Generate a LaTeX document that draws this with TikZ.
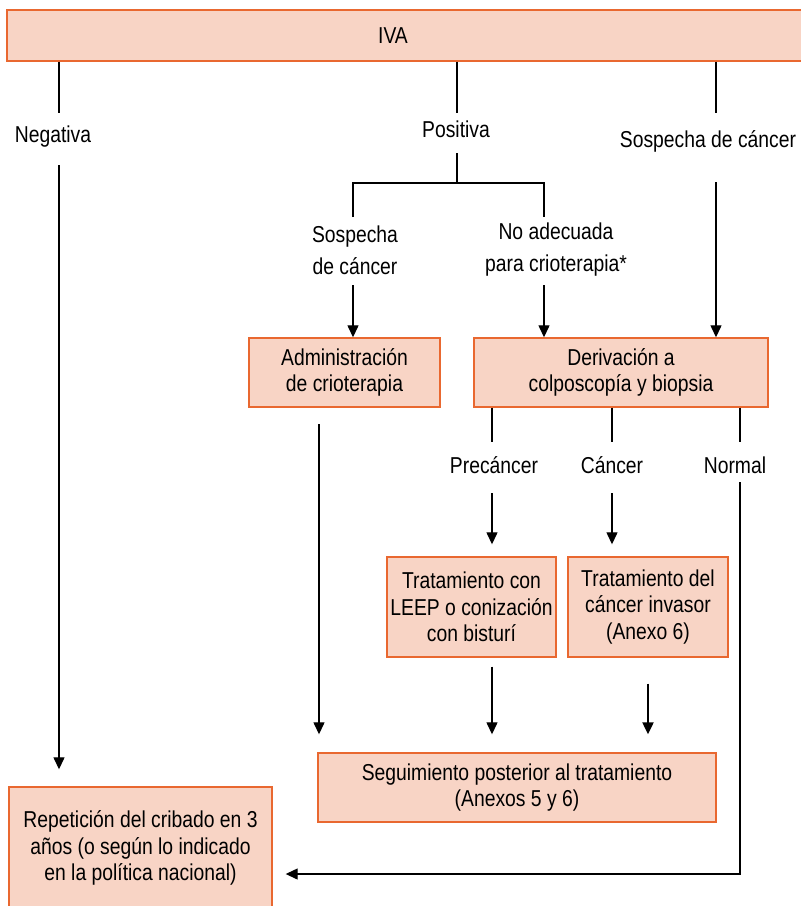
\documentclass[tikz,border=0pt]{standalone}
\usepackage{fontspec}
\setmainfont{Liberation Sans}[FakeStretch=0.84]
\usetikzlibrary{arrows.meta}
\definecolor{boxfill}{RGB}{248,212,197}
\definecolor{boxline}{RGB}{233,104,48}

\begin{document}
\begin{tikzpicture}[x=1pt, y=-1pt, line width=1.3pt,
  font=\fontsize{23}{26.5}\selectfont,
  every node/.style={align=center, inner sep=0pt},
  box/.style={draw=boxline, fill=boxfill, line width=1.4pt},
  lab/.style={font=\fontsize{23}{32}\selectfont},
  arr/.style={-{Triangle[length=12pt,width=11pt]}}]
  \useasboundingbox (0,0) rectangle (801,906);

  \node[box, minimum width=805pt, minimum height=51pt] (iva) at (409.5,35.5) {};
  \node (ivat) at (393,36) {IVA};
  \node[lab] (neg) at (53,137) {Negativa};
  \node[lab] (pos) at (456,129) {Positiva};
  \node[lab] (sos) at (708,141) {Sospecha de cáncer};
  \node[lab] (sosc) at (355,250) {Sospecha\\de cáncer};
  \node[lab] (noad) at (556,250) {No adecuada\\para crioterapia*};
  \node[box, minimum width=191pt, minimum height=69pt] (adm) at (344.5,372.5)
    {Administración\\de crioterapia};
  \node[box, minimum width=294pt, minimum height=69pt] (der) at (621,372.5)
    {Derivación a\\colposcopía y biopsia};
  \node[lab] (pre) at (494,465) {Precáncer};
  \node[lab] (can) at (612,465) {Cáncer};
  \node[lab] (nor) at (735,465) {Normal};
  \node[box, minimum width=169pt, minimum height=100pt] (leep) at (471.5,607)
    {Tratamiento con\\LEEP o conización\\con bisturí};
  \node[box, minimum width=160pt, minimum height=100pt] (inv) at (648,607)
    {Tratamiento del\\cáncer invasor\\(Anexo 6)};
  \node[box, minimum width=398pt, minimum height=69pt] (seg) at (517,787.5)
    {Seguimiento posterior al tratamiento\\(Anexos 5 y 6)};
  \node[box, minimum width=263pt, minimum height=122pt] (rep) at (140.5,848)
    {Repetición del cribado en 3\\años (o según lo indicado\\en la política nacional)};

  % line ends
  \coordinate (n1) at (59,113);  \coordinate (n2) at (59,165);
  \coordinate (p1) at (457,113); \coordinate (p2) at (457,153);
  \coordinate (fork) at (457,183);
  \coordinate (s1) at (716,113); \coordinate (s2) at (716,182);
  \coordinate (bl) at (353,217); \coordinate (br) at (544,217);
  \coordinate (bl2) at (353,285); \coordinate (br2) at (544,285);
  \coordinate (d1) at (492,442); \coordinate (d2) at (612,442);
  \coordinate (d3) at (740,442);
  \coordinate (e1) at (492,493); \coordinate (e2) at (612,493);
  \coordinate (nm) at (740,482); \coordinate (nb) at (740,874);
  \coordinate (ad) at (319,424);

  \draw (iva.south -| n1) -- (n1);
  \draw (iva.south -| p1) -- (p1);
  \draw (iva.south -| s1) -- (s1);
  \draw (p2) -- (fork);
  \draw (bl) |- (fork) -| (br);
  \draw[arr] (bl2) -- (bl2 |- adm.north);
  \draw[arr] (br2) -- (br2 |- der.north);
  \draw[arr] (s2) -- (s2 |- der.north);
  \foreach \c in {d1,d2,d3}
    \draw (der.south -| \c) -- (\c);
  \draw[arr, shorten >=12pt] (e1) -- (e1 |- leep.north);
  \draw[arr, shorten >=12pt] (e2) -- (e2 |- inv.north);
  \draw[arr, shorten >=18pt] (ad) -- (ad |- seg.north);
  \draw[arr, shorten <=9pt, shorten >=18pt] (leep.south -| e1) -- (seg.north -| e1);
  \draw[arr, line width=2.2pt, shorten <=26pt, shorten >=18pt] (inv.south) -- (inv.south |- seg.north);
  \draw[arr, shorten >=17pt] (n2) -- (n2 |- rep.north);
  \draw[arr, shorten >=13pt] (nm) -- (nb) -- (nb -| rep.east);
\end{tikzpicture}
\end{document}
